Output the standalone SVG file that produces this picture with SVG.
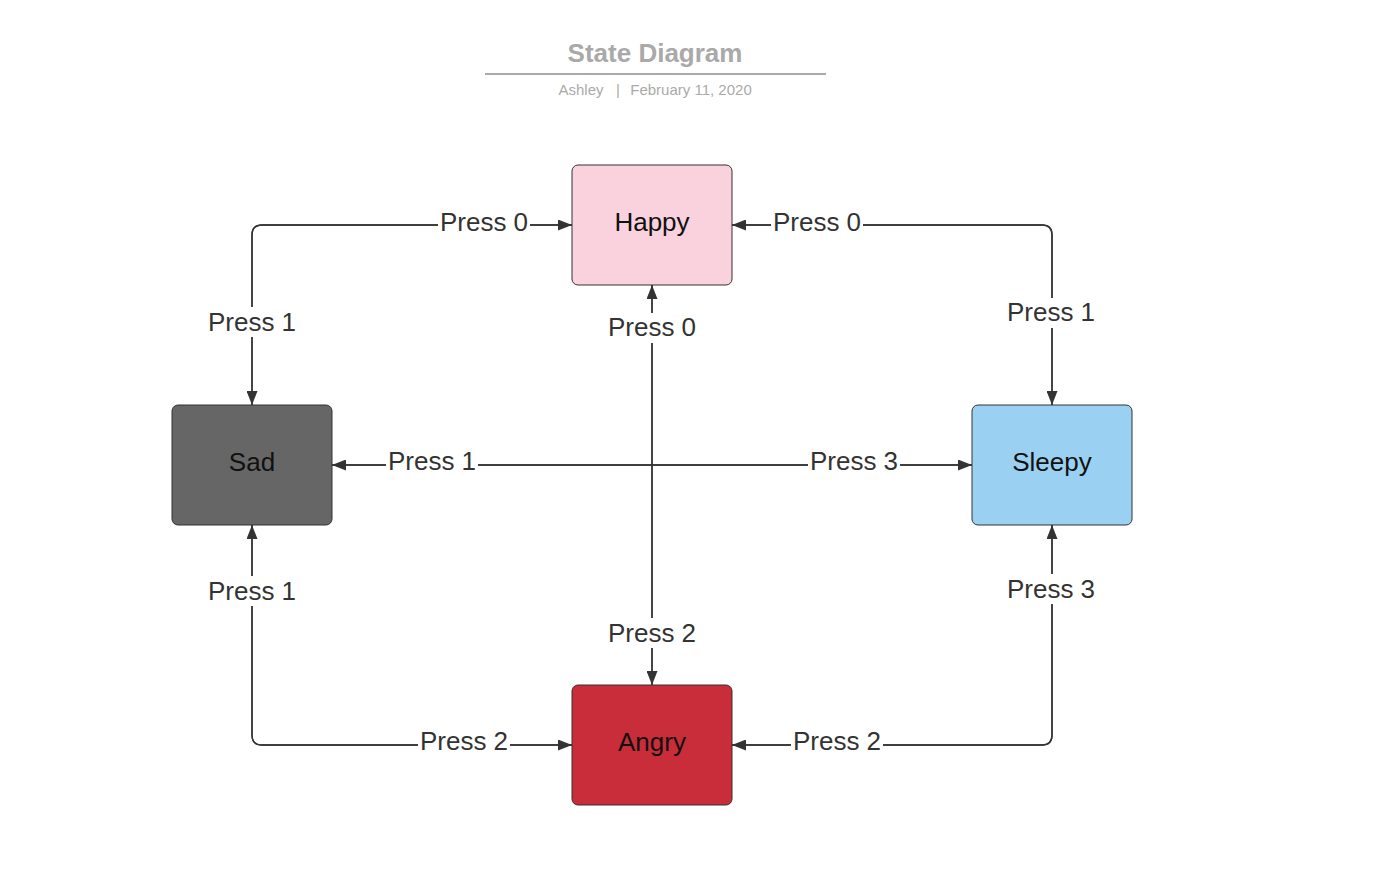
<svg xmlns="http://www.w3.org/2000/svg" width="1400" height="890" viewBox="0 0 1400 890">
<defs>
<marker id="arr" viewBox="0 0 14 11" refX="14" refY="5.5" markerWidth="14" markerHeight="11" markerUnits="userSpaceOnUse" orient="auto">
<path d="M0,0 L14,5.5 L0,11 Z" fill="#333"/>
</marker>
<style>
.node{stroke:#333;stroke-width:1}
.ntext{font-family:"Liberation Sans",Arial,sans-serif;font-size:26px;fill:#111;text-anchor:middle}
.conn{fill:none;stroke:#333;stroke-width:1.4;marker-end:url(#arr)}
.lbg{fill:#fff}
.lbl{font-family:"Liberation Sans",Arial,sans-serif;font-size:26px;fill:#333;text-anchor:middle}
</style>
</defs>
<rect width="1400" height="890" fill="#fff"/>
<g id="title">
<text x="655" y="62" font-family="Liberation Sans,Arial,sans-serif" font-size="26" font-weight="bold" fill="#a9a9a9" text-anchor="middle">State Diagram</text>
<line x1="485" y1="74" x2="826" y2="74" stroke="#aaa" stroke-width="2"/>
<text x="581" y="95" font-family="Liberation Sans,Arial,sans-serif" font-size="15" fill="#aaa" text-anchor="middle">Ashley</text>
<text x="618" y="95" font-family="Liberation Sans,Arial,sans-serif" font-size="15" fill="#aaa" text-anchor="middle">|</text>
<text x="691" y="95" font-family="Liberation Sans,Arial,sans-serif" font-size="15" fill="#aaa" text-anchor="middle">February 11, 2020</text>
</g>
<g id="connectors">
<path class="conn" d="M252,405 L252,235 Q252,225 262,225 L572,225"/>
<path class="conn" d="M572,225 L262,225 Q252,225 252,235 L252,405"/>
<path class="conn" d="M1052,405 L1052,235 Q1052,225 1042,225 L732,225"/>
<path class="conn" d="M732,225 L1042,225 Q1052,225 1052,235 L1052,405"/>
<path class="conn" d="M572,745 L262,745 Q252,745 252,735 L252,525"/>
<path class="conn" d="M252,525 L252,735 Q252,745 262,745 L572,745"/>
<path class="conn" d="M732,745 L1042,745 Q1052,745 1052,735 L1052,525"/>
<path class="conn" d="M1052,525 L1052,735 Q1052,745 1042,745 L732,745"/>
<path class="conn" d="M652,685 L652,285"/>
<path class="conn" d="M652,285 L652,685"/>
<path class="conn" d="M972,465 L332,465"/>
<path class="conn" d="M332,465 L972,465"/>
<g id="labels">
<rect class="lbg" x="438" y="208" width="92" height="28"/><text class="lbl" x="484" y="231">Press 0</text>
<rect class="lbg" x="771" y="208" width="92" height="28"/><text class="lbl" x="817" y="231">Press 0</text>
<rect class="lbg" x="206" y="307" width="92" height="30"/><text class="lbl" x="252" y="331">Press 1</text>
<rect class="lbg" x="1005" y="298" width="92" height="30"/><text class="lbl" x="1051" y="321">Press 1</text>
<rect class="lbg" x="606" y="313" width="92" height="30"/><text class="lbl" x="652" y="336">Press 0</text>
<rect class="lbg" x="386" y="448" width="92" height="28"/><text class="lbl" x="432" y="470">Press 1</text>
<rect class="lbg" x="808" y="448" width="92" height="28"/><text class="lbl" x="854" y="470">Press 3</text>
<rect class="lbg" x="206" y="576" width="92" height="30"/><text class="lbl" x="252" y="600">Press 1</text>
<rect class="lbg" x="1005" y="574" width="92" height="30"/><text class="lbl" x="1051" y="598">Press 3</text>
<rect class="lbg" x="606" y="618" width="92" height="30"/><text class="lbl" x="652" y="642">Press 2</text>
<rect class="lbg" x="418" y="728" width="92" height="28"/><text class="lbl" x="464" y="750">Press 2</text>
<rect class="lbg" x="791" y="728" width="92" height="28"/><text class="lbl" x="837" y="750">Press 2</text>
</g>
</g>
<g id="happy">
<rect class="node" x="572" y="165" width="160" height="120" rx="6" fill="#f9d2de"/>
<text class="ntext" x="652" y="231">Happy</text>
</g>
<g id="sad">
<rect class="node" x="172" y="405" width="160" height="120" rx="6" fill="#666666"/>
<text class="ntext" x="252" y="471">Sad</text>
</g>
<g id="sleepy">
<rect class="node" x="972" y="405" width="160" height="120" rx="6" fill="#9ad1f2"/>
<text class="ntext" x="1052" y="471">Sleepy</text>
</g>
<g id="angry">
<rect class="node" x="572" y="685" width="160" height="120" rx="6" fill="#c92d39"/>
<text class="ntext" x="652" y="751">Angry</text>
</g>
</svg>
